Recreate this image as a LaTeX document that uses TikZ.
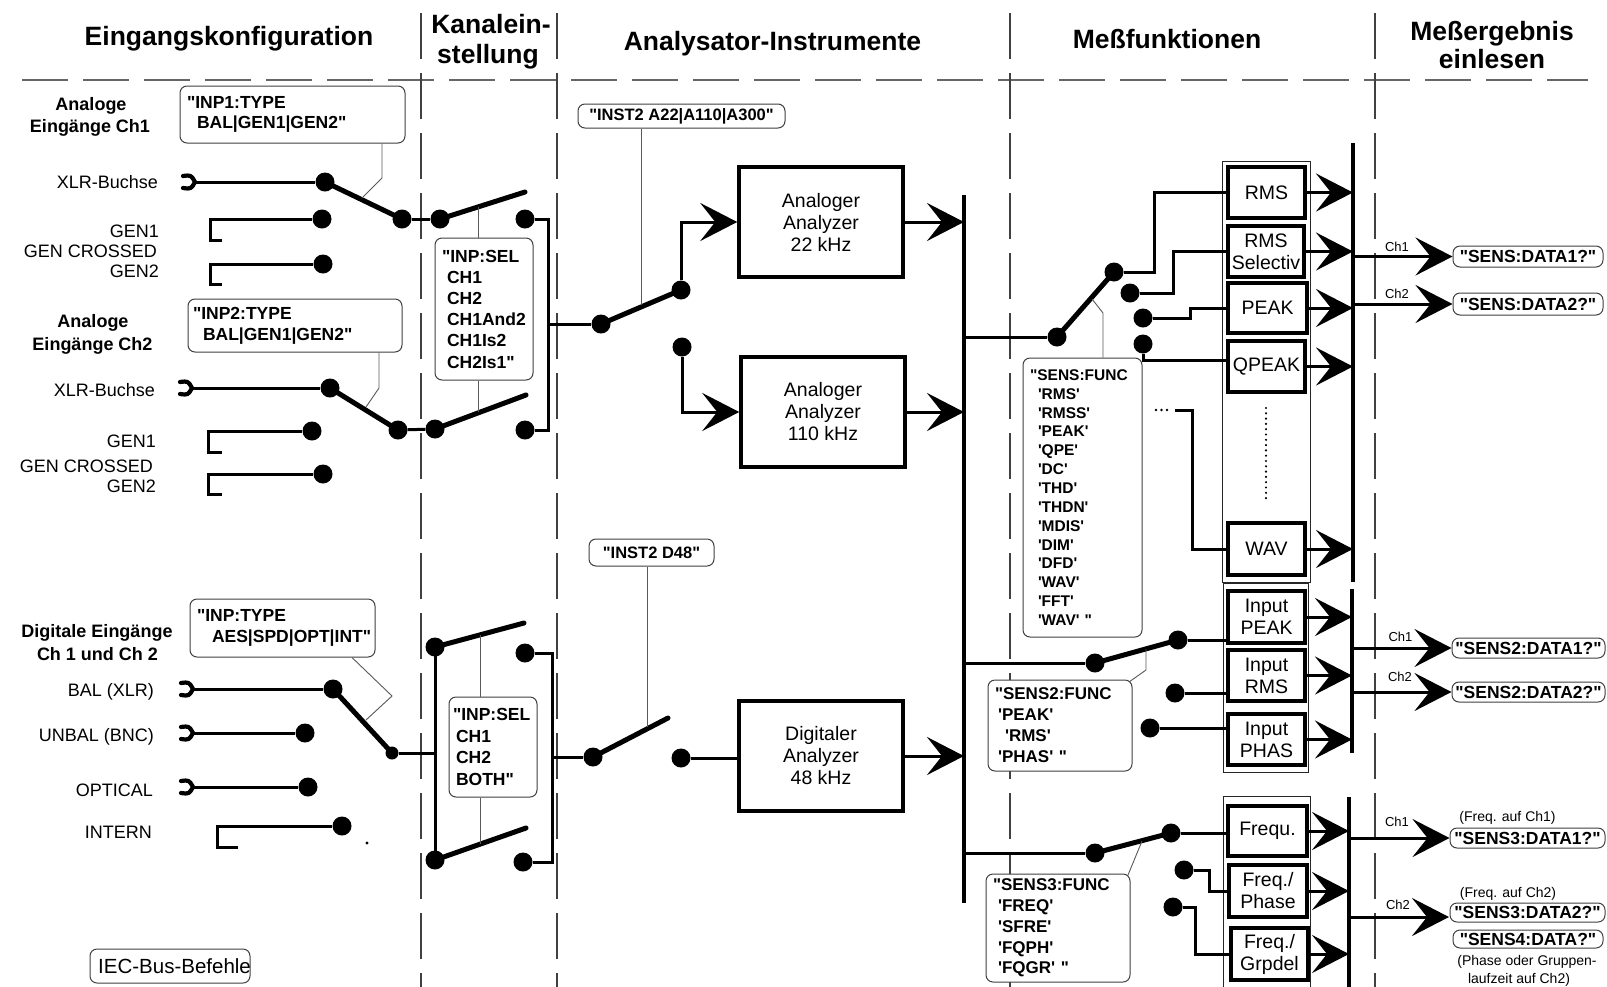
\documentclass[tikz,border=0pt]{standalone}
\usepackage{fontspec}
\newfontfamily\arialf{Liberation Sans}
\usetikzlibrary{arrows.meta}
\newcommand\fsz[2]{\fontsize{#1}{#2}\selectfont}
\newcommand\plugat[2]{\draw[line width=4.2pt, line cap=round, line join=round] ({#1-12},{#2-6}) .. controls ({#1-4},{#2-7}) .. ({#1},{#2}) .. controls ({#1-4},{#2+7}) .. ({#1-12},{#2+6});}
\begin{document}
\begin{tikzpicture}[x=1pt,y=-1pt,
 lbl/.style={font=\arialf\fsz{18}{21}, inner sep=0pt},
 hd/.style={font=\arialf\bfseries\fsz{18}{22}, inner sep=0pt},
 ttl/.style={font=\arialf\bfseries\fsz{26.5}{30}, inner sep=0pt},
 sm/.style={font=\arialf\fsz{13}{15}, inner sep=0pt},
 note/.style={font=\arialf\fsz{14}{16}, inner sep=0pt},
 cbox/.style={draw=black!75, line width=1pt, rounded corners=7pt, fill=white, inner sep=0pt, align=left},
 cboxc/.style={draw=black!75, line width=1pt, rounded corners=7pt, fill=white, inner sep=0pt, align=center, font=\arialf\bfseries\fsz{17.5}{20}},
 bt/.style={font=\arialf\bfseries\fsz{17.5}{#1}},
 fbox/.style={draw, line width=3.5pt, fill=white, inner sep=0pt, align=center, font=\arialf\fsz{19.5}{22}},
 gbox/.style={draw=black!85, line width=0.9pt, inner sep=0pt},
 dot/.style={circle, fill, inner sep=0pt, minimum size=19pt},
 sdot/.style={circle, fill, inner sep=0pt, minimum size=13pt},
 wire/.style={line width=3pt},
 arm/.style={line width=5pt, line cap=round},
 bus/.style={line width=3.5pt},
 call/.style={line width=0.9pt, draw=black!65},
 arr/.style={-{Stealth[length=37pt,width=38pt,inset=15pt]}},
 hsep/.style={line width=1.1pt, draw=black!60, dash pattern=on 46pt off 15pt},
 vsep/.style={line width=1.1pt, draw=black!75, dash pattern=on 46pt off 14pt}]

\fill[white] (0,0) rectangle (1607,986);
\useasboundingbox (0,0) rectangle (1607,986);

% separators
\draw[hsep] (22,80) -- (1588,80);
\foreach \x in {421,557,1010,1375} \draw[vsep] (\x,13) -- (\x,990);

% titles
\node[ttl, anchor=base] (t1) at (229,45) {Eingangskonfiguration};
\node[ttl, anchor=base] (t2a) at (491,33) {Kanalein-};
\node[ttl, anchor=base] (t2b) at (488,63) {stellung};
\node[ttl, anchor=base] (t3) at (772.5,50) {Analysator-Instrumente};
\node[ttl, anchor=base] (t4) at (1167,48) {Meßfunktionen};
\node[ttl, anchor=base] (t5a) at (1492,40) {Meßergebnis};
\node[ttl, anchor=base] (t5b) at (1492,68) {einlesen};

% left headings and labels
\node[hd, anchor=base] (h1a) at (91,110) {Analoge};
\node[hd, anchor=base] (h1b) at (90,132) {Eingänge Ch1};
\node[hd, anchor=base] (h2a) at (93,327) {Analoge};
\node[hd, anchor=base] (h2b) at (92.5,350) {Eingänge Ch2};
\node[hd, anchor=base] (h3a) at (97,637) {Digitale Eingänge};
\node[hd, anchor=base] (h3b) at (97.5,660) {Ch 1 und Ch 2};

\node[lbl, anchor=base east] (l11) at (158,188) {XLR-Buchse};
\node[lbl, anchor=base east] (l12) at (159,237) {GEN1};
\node[lbl, anchor=base east] (l13) at (157,257) {GEN CROSSED};
\node[lbl, anchor=base east] (l14) at (159,277) {GEN2};
\node[lbl, anchor=base east] (l21) at (155,396) {XLR-Buchse};
\node[lbl, anchor=base east] (l22) at (156,447) {GEN1};
\node[lbl, anchor=base east] (l23) at (153,472) {GEN CROSSED};
\node[lbl, anchor=base east] (l24) at (156,492) {GEN2};
\node[lbl, anchor=base east] (l31) at (154,696) {BAL (XLR)};
\node[lbl, anchor=base east] (l32) at (154,741) {UNBAL (BNC)};
\node[lbl, anchor=base east] (l33) at (153,796) {OPTICAL};
\node[lbl, anchor=base east] (l34) at (152,838) {INTERN};

% plugs
\coordinate (p1) at (195,182); \plugat{195}{182}
\coordinate (p2) at (192,388); \plugat{192}{388}
\coordinate (pbal) at (193,689); \plugat{193}{689}
\coordinate (punbal) at (193,733); \plugat{193}{733}
\coordinate (popt) at (193,787); \plugat{193}{787}

% input dots
\node[dot] (a1xlr) at (325,182) {};
\node[dot] (a1com) at (402,219) {};
\node[dot] (a1g1) at (322,219) {};
\node[dot] (a1g2) at (323,264) {};
\node[dot] (a2xlr) at (330,388) {};
\node[dot] (a2com) at (398,430) {};
\node[dot] (a2g1) at (312,431) {};
\node[dot] (a2g2) at (323,474) {};
\node[dot] (dbal) at (333,689) {};
\node[sdot] (dcom) at (392,753) {};
\node[dot] (dunbal) at (305,733) {};
\node[dot] (dopt) at (308,787) {};
\node[dot] (dint) at (342,826) {};
\fill (367,843) circle (1.6pt);

\draw[wire] (p1) -- (a1xlr);
\draw[wire] (p2) -- (a2xlr);
\draw[wire] (pbal) -- (dbal);
\draw[wire] (punbal) -- (dunbal);
\draw[wire] (popt) -- (dopt);
\draw[wire] (a1g1) -- (210,219) -- (210,240) -- (222,240);
\draw[wire] (a1g2) -- (210,264) -- (210,284) -- (222,284);
\draw[wire] (a2g1) -- (208,431) -- (208,452) -- (222,452);
\draw[wire] (a2g2) -- (208,474) -- (208,494) -- (222,494);
\draw[wire] (dint) -- (217,826) -- (217,847) -- (238,847);
\draw[arm] (a1xlr.center) -- (a1com.center);
\draw[arm] (a2xlr.center) -- (a2com.center);
\draw[arm] (dbal.center) -- (dcom.center);

% input command boxes
\node[cbox, bt=20, minimum width=225pt, minimum height=57pt, text width=211pt] (inp1) at (292.5,114.5) {"INP1:TYPE\\\hspace*{10pt}BAL|GEN1|GEN2"};
\draw[call] (inp1.south -| 382,0) -- (382,178) -- (362,198);
\node[cbox, bt=21, minimum width=214pt, minimum height=53pt, text width=204pt] (inp2) at (295,325.5) {"INP2:TYPE\\\hspace*{10pt}BAL|GEN1|GEN2"};
\draw[call] (inp2.south -| 379,0) -- (379,388) -- (366,407);
\node[cbox, bt=21, minimum width=185pt, minimum height=58pt, text width=171pt] (inpt) at (282.5,628) {"INP:TYPE\\\hspace*{15pt}AES|SPD|OPT|INT"};
\draw[call] (inpt.south -| 352,0) -- (392,696) -- (366,720);

\node[cbox, minimum width=160pt, minimum height=34pt] (iecb) at (170,966) {};
\node[lbl, font=\arialf\fsz{20.5}{24}, anchor=base west] (iec) at (98,973) {IEC-Bus-Befehle};

% Kanaleinstellung analog
\node[dot] (k1l) at (440,219) {};
\coordinate (k1e) at (525,192);
\node[dot] (k1r) at (525,219) {};
\node[dot] (k2l) at (435,429) {};
\coordinate (k2e) at (526,395);
\node[dot] (k2r) at (525,430) {};
\coordinate (kb1) at (548,324);
\draw[wire] (a1com) -- (k1l);
\draw[wire] (a2com) -- (k2l);
\draw[arm] (k1l.center) -- (k1e);
\draw[arm] (k2l.center) -- (k2e);
\draw[wire] (k1r) -| (kb1) |- (k2r);
\node[cbox, bt=21.2, minimum width=98pt, minimum height=142pt, text width=84pt] (ks1) at (484,309) {"INP:SEL\\\hspace*{5pt}CH1\\\hspace*{5pt}CH2\\\hspace*{5pt}CH1And2\\\hspace*{5pt}CH1Is2\\\hspace*{5pt}CH2Is1"};
\draw[call] (ks1.north -| 478,0) -- (478,207);
\draw[call] (ks1.south -| 478,0) -- (478,412);

% Kanaleinstellung digital
\node[dot] (k3l) at (435,647) {};
\coordinate (k3e) at (524,623);
\node[dot] (k3r) at (525,653) {};
\node[dot] (k4l) at (435,860) {};
\coordinate (k4e) at (526,828);
\node[dot] (k4r) at (523,862) {};
\coordinate (kb2) at (552,757);
\draw[wire] (k3l.center) -- (k4l.center);
\draw[wire] (dcom) -- (dcom -| k3l);
\draw[arm] (k3l.center) -- (k3e);
\draw[arm] (k4l.center) -- (k4e);
\draw[wire] (k3r) -| (kb2) |- (k4r);
\node[cbox, bt=21.7, minimum width=88pt, minimum height=100pt, text width=80pt] (ks2) at (493,747) {"INP:SEL\\\hspace*{3pt}CH1\\\hspace*{3pt}CH2\\\hspace*{3pt}BOTH"};
\draw[call] (ks2.north -| 480,0) -- (480,635);
\draw[call] (ks2.south -| 480,0) -- (480,844);

% Analysator-Instrumente
\coordinate (bAt) at (964,195);
\coordinate (bAb) at (964,903);
\draw[bus] (bAt) -- (bAb);
\node[dot] (s1l) at (601,324) {};
\node[dot] (s1a) at (681,290) {};
\node[dot] (s1b) at (682,347) {};
\draw[wire] (kb1) -- (s1l);
\draw[arm] (s1l.center) -- (s1a.center);
\node[fbox, minimum width=164pt, minimum height=110pt] (an22) at (821,222) {Analoger\\Analyzer\\22 kHz};
\node[fbox, minimum width=164pt, minimum height=110pt] (an110) at (823,412) {Analoger\\Analyzer\\110 kHz};
\draw[wire, arr] (s1a) |- (an22.west);
\draw[wire, arr] (s1b) |- (an110.west);
\draw[wire, arr] (an22.east) -- (an22.east -| bAt);
\draw[wire, arr] (an110.east) -- (an110.east -| bAt);
\node[cboxc, font=\arialf\bfseries\fsz{16.5}{19}, minimum width=207pt, minimum height=24pt] (i2a) at (681.5,116) {"INST2 A22|A110|A300"};
\draw[call] (i2a.south -| 641,0) -- (641,305);

\node[dot] (s2l) at (593,757) {};
\coordinate (s2e) at (668,718);
\node[dot] (s2r) at (681,758) {};
\draw[wire] (kb2) -- (s2l);
\draw[arm] (s2l.center) -- (s2e);
\node[fbox, minimum width=164pt, minimum height=110pt] (dig48) at (821,756) {Digitaler\\Analyzer\\48 kHz};
\draw[wire] (s2r) -- (s2r -| dig48.west);
\draw[wire, arr] (dig48.east) -- (dig48.east -| bAt);
\node[cboxc, font=\arialf\bfseries\fsz{16.5}{19}, minimum width=125pt, minimum height=27pt] (i2d) at (651.5,552.5) {"INST2 D48"};
\draw[call] (i2d.south -| 647,0) -- (647,727);

% Messfunktionen group boxes
\node[gbox, minimum width=88pt, minimum height=421pt] (g1) at (1266,371.5) {};
\node[gbox, minimum width=85pt, minimum height=189pt] (g2) at (1265.5,677.5) {};
\node[gbox, minimum width=87pt, minimum height=194pt] (g3) at (1266.5,893) {};

\node[fbox, minimum width=77pt, minimum height=51pt] (rms) at (1266.5,192.5) {RMS};
\node[fbox, minimum width=76pt, minimum height=51pt] (rmss) at (1266,251.5) {RMS\\Selectiv};
\node[fbox, minimum width=79pt, minimum height=50pt] (peak) at (1267.5,308) {PEAK};
\node[fbox, minimum width=77pt, minimum height=51pt] (qpeak) at (1266.5,366.5) {QPEAK};
\node[fbox, minimum width=77pt, minimum height=52pt] (wav) at (1266.5,549) {WAV};
\draw[line width=2.4pt, line cap=round, dash pattern=on 0pt off 5.3pt] (1266,408) -- (1266,503);

\node[fbox, minimum width=77pt, minimum height=52pt] (ipeak) at (1266.5,617) {Input\\PEAK};
\node[fbox, minimum width=77pt, minimum height=51pt] (irms) at (1266.5,675.5) {Input\\RMS};
\node[fbox, minimum width=77pt, minimum height=51pt] (iphas) at (1266.5,739.5) {Input\\PHAS};

\node[fbox, minimum width=79pt, minimum height=50pt] (frequ) at (1267.5,831) {Frequ.};
\node[fbox, minimum width=78pt, minimum height=52pt] (fphase) at (1268,891) {Freq./\\Phase};
\node[fbox, minimum width=77pt, minimum height=52pt] (fgrp) at (1269.5,954) {Freq./\\Grpdel};

% SENS switch
\node[dot] (m1l) at (1057,337) {};
\node[dot] (m1a) at (1114,272) {};
\node[dot] (m1b) at (1130,293) {};
\node[dot] (m1c) at (1143,318) {};
\node[dot] (m1d) at (1143,344) {};
\draw[wire] (m1l -| bAt) -- (m1l);
\draw[arm] (m1l.center) -- (m1a.center);
\draw[wire] (m1a) -- (1154,272) |- (rms.west);
\draw[wire] (m1b) -- (1173,293) |- (rmss.west);
\draw[wire] (m1c) -- (1190,318) |- (peak.west);
\draw[wire] (m1d) |- ([yshift=6pt]qpeak.west);
\foreach \x in {1156,1161.5,1167} \fill (\x,410) circle (1.3pt);
\coordinate (ell) at (1175,410);
\draw[wire] (ell) -- (1192,410) |- (wav.west);
\node[cbox, font=\arialf\bfseries\fsz{15.5}{18.85}, minimum width=119pt, minimum height=279pt, text width=105pt] (sf1) at (1082.5,497.5) {"SENS:FUNC\\\hspace*{8pt}'RMS'\\\hspace*{8pt}'RMSS'\\\hspace*{8pt}'PEAK'\\\hspace*{8pt}'QPE'\\\hspace*{8pt}'DC'\\\hspace*{8pt}'THD'\\\hspace*{8pt}'THDN'\\\hspace*{8pt}'MDIS'\\\hspace*{8pt}'DIM'\\\hspace*{8pt}'DFD'\\\hspace*{8pt}'WAV'\\\hspace*{8pt}'FFT'\\\hspace*{8pt}'WAV' "};
\draw[call] (1092,299) -- (1103,313) -- (sf1.north -| 1103,0);

% SENS2 switch
\node[dot] (m2l) at (1095,663) {};
\node[dot] (m2a) at (1178,640) {};
\node[dot] (m2b) at (1175,693) {};
\node[dot] (m2c) at (1150,728) {};
\draw[wire] (m2l -| bAt) -- (m2l);
\draw[arm] (m2l.center) -- (m2a.center);
\draw[wire] (m2a) -- (m2a -| ipeak.west);
\draw[wire] (m2b) -- (m2b -| irms.west);
\draw[wire] (m2c) -- (m2c -| iphas.west);
\node[cbox, font=\arialf\bfseries\fsz{17}{21}, minimum width=144pt, minimum height=91pt, text width=130pt] (sf2) at (1060,725.5) {"SENS2:FUNC\\\hspace*{3pt}'PEAK'\\\hspace*{10pt}'RMS'\\\hspace*{3pt}'PHAS' "};
\draw[call] (1146,649) -- (1146,670) -- (1129,682);

% SENS3 switch
\node[dot] (m3l) at (1095,853) {};
\node[dot] (m3a) at (1171,833) {};
\node[dot] (m3b) at (1184,870) {};
\node[dot] (m3c) at (1173,907) {};
\draw[wire] (m3l -| bAt) -- (m3l);
\draw[arm] (m3l.center) -- (m3a.center);
\draw[wire] (m3a) -- (m3a -| frequ.west);
\draw[wire] (m3b) -- (1209,870) |- (fphase.west);
\draw[wire] (m3c) -- (1195,907) |- (fgrp.west);
\node[cbox, font=\arialf\bfseries\fsz{17}{20.75}, minimum width=144pt, minimum height=108pt, text width=130pt] (sf3) at (1058,928) {"SENS3:FUNC\\\hspace*{5pt}'FREQ'\\\hspace*{5pt}'SFRE'\\\hspace*{5pt}'FQPH'\\\hspace*{5pt}'FQGR' "};
\draw[call] (1142,841) -- (1128,875);

% result buses
\coordinate (r1t) at (1353,143); \coordinate (r1b) at (1353,582);
\coordinate (r2t) at (1352,589); \coordinate (r2b) at (1352,753);
\coordinate (r3t) at (1349,797); \coordinate (r3b) at (1349,990);
\draw[bus] (r1t) -- (r1b);
\draw[bus] (r2t) -- (r2b);
\draw[bus] (r3t) -- (r3b);
\foreach \n in {rms,rmss,peak,qpeak,wav} \draw[wire, arr] (\n.east) -- (\n.east -| r1t);
\foreach \n in {ipeak,irms,iphas} \draw[wire, arr] (\n.east) -- (\n.east -| r2t);
\foreach \n in {frequ,fphase,fgrp} \draw[wire, arr] (\n.east) -- (\n.east -| r3t);

% result boxes
\node[cboxc, minimum width=150pt, minimum height=21pt] (d1) at (1528,256.5) {"SENS:DATA1?"};
\node[cboxc, minimum width=150pt, minimum height=22pt] (d2) at (1528,304) {"SENS:DATA2?"};
\node[cboxc, minimum width=153pt, minimum height=20pt] (e1) at (1528.5,648) {"SENS2:DATA1?"};
\node[cboxc, minimum width=153pt, minimum height=20pt] (e2) at (1528.5,692) {"SENS2:DATA2?"};
\node[cboxc, minimum width=155pt, minimum height=20pt] (f1) at (1527.5,838) {"SENS3:DATA1?"};
\node[cboxc, minimum width=155pt, minimum height=19pt] (f2) at (1527.5,912.5) {"SENS3:DATA2?"};
\node[cboxc, minimum width=150pt, minimum height=18pt] (f3) at (1528,939) {"SENS4:DATA?"};
\coordinate (ch2end) at (1449,917);

\draw[wire, arr] (d1.west -| r1t) -- (d1.west);
\draw[wire, arr] (d2.west -| r1t) -- (d2.west);
\draw[wire, arr] (e1.west -| r2t) -- (e1.west);
\draw[wire, arr] (e2.west -| r2t) -- (e2.west);
\draw[wire, arr] (f1.west -| r3t) -- (f1.west);
\draw[wire, arr] (ch2end -| r3t) -- (ch2end);

\node[sm] (c11) at (1397,246.5) {Ch1};
\node[sm] (c12) at (1397,293.5) {Ch2};
\node[sm] (c21) at (1400.5,637) {Ch1};
\node[sm] (c22) at (1400,677) {Ch2};
\node[sm] (c31) at (1397,822) {Ch1};
\node[sm] (c32) at (1398,905) {Ch2};

\node[note] (n1) at (1507.5,818) {(Freq. auf Ch1)};
\node[note] (n2) at (1508,894) {(Freq. auf Ch2)};
\node[note] (n3) at (1527,962) {(Phase oder Gruppen-};
\node[note] (n4) at (1519,980) {laufzeit auf Ch2)};
\end{tikzpicture}
\end{document}
